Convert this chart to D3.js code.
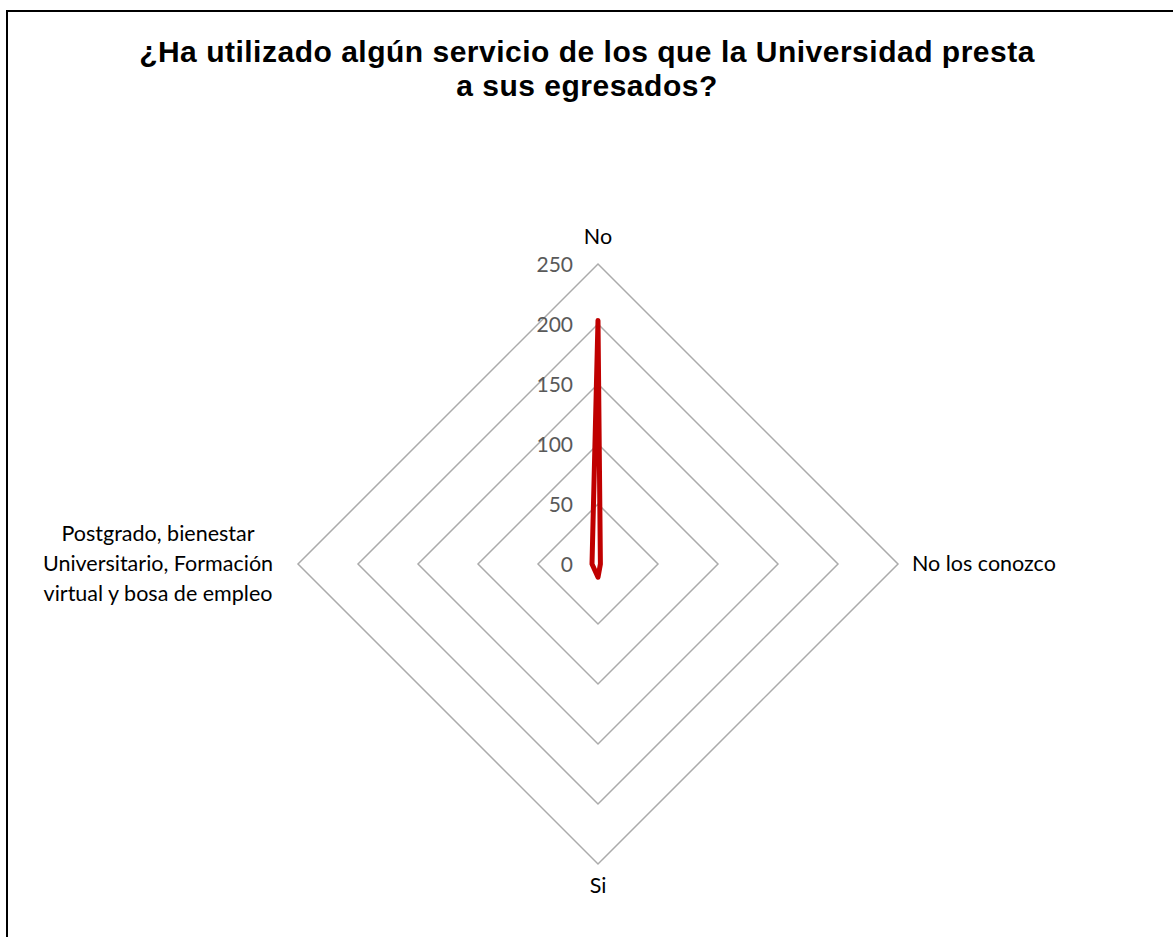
<!DOCTYPE html>
<html>
<head>
<meta charset="utf-8">
<script src="https://cdn.jsdelivr.net/npm/d3@7"></script>
<style>
  html, body { margin: 0; padding: 0; background: #fff; }
  svg { display: block; }
</style>
</head>
<body>
<svg id="chart" width="1173" height="937"></svg>
<script>
// ---- data ----
const titleLines = ["¿Ha utilizado algún servicio de los que la Universidad presta", "a sus egresados?"];
const categories = ["No", "No los conozco", "Si", "Postgrado, bienestar Universitario, Formación virtual y bosa de empleo"];
const categoryLines = [["No"], ["No los conozco"], ["Si"], ["Postgrado, bienestar", "Universitario, Formación", "virtual y bosa de empleo"]];
const values = [203, 2, 11, 5];
const tickValues = [0, 50, 100, 150, 200, 250];

// ---- layout ----
const svg = d3.select("#chart");
const W = 1173, H = 937;
const cx = 598, cy = 564, R = 300;

svg.append("rect").attr("x", 0).attr("y", 0).attr("width", W).attr("height", H).attr("fill", "#fff");
svg.append("rect").attr("x", 7).attr("y", 11).attr("width", W + 20).attr("height", H + 20)
  .attr("fill", "none").attr("stroke", "#000").attr("stroke-width", 2);

const r = d3.scaleLinear().domain([0, 250]).range([0, R]);
const angle = i => (i / categories.length) * 2 * Math.PI; // 0 = up, clockwise
const pt = (i, v) => [cx + r(v) * Math.sin(angle(i)), cy - r(v) * Math.cos(angle(i))];

// title
const title = svg.append("text").attr("text-anchor", "middle")
  .attr("font-family", "Liberation Sans, Arial, sans-serif").attr("font-weight", "bold")
  .attr("font-size", 30).attr("letter-spacing", 0.5).attr("fill", "#000");
titleLines.forEach((t, k) => title.append("tspan").attr("x", 587).attr("y", 62 + k * 34).text(t));

// grid rings
const g = svg.append("g");
tickValues.filter(t => t > 0).forEach(t => {
  const pts = categories.map((c, i) => pt(i, t));
  g.append("path").attr("d", d3.line()(pts) + "Z")
    .attr("fill", "none").attr("stroke", "#ABABAB").attr("stroke-width", 1.5);
});

// tick labels
tickValues.forEach(t => {
  g.append("text").attr("x", cx - 25).attr("y", cy - r(t) + 8)
    .attr("text-anchor", "end").attr("font-family", "Lato, Carlito, Calibri, sans-serif")
    .attr("font-size", 21).attr("fill", "#595959").text(d3.format("d")(t));
});

// series
svg.append("path").datum(values)
  .attr("d", d3.line()(values.map((v, i) => pt(i, v))) + "Z")
  .attr("fill", "none").attr("stroke", "#C00000").attr("stroke-width", 5)
  .attr("stroke-linejoin", "round");

// category labels
const lab = svg.append("g").attr("font-family", "Lato, Carlito, Calibri, sans-serif")
  .attr("font-size", 21.5).attr("fill", "#000");
const lh = 30;
categoryLines.forEach((lines, i) => {
  const [px, py] = pt(i, 250);
  let x, y, anchor;
  if (i === 0) { x = px; y = py - 20; anchor = "middle"; }
  else if (i === 1) { x = px + 14; y = py + 7; anchor = "start"; }
  else if (i === 2) { x = px; y = py + 29; anchor = "middle"; }
  else { x = px - 140; y = py + 7 - lh * (lines.length - 1) / 2; anchor = "middle"; }
  const t = lab.append("text").attr("text-anchor", anchor);
  lines.forEach((l, k) => t.append("tspan").attr("x", x).attr("y", y + k * lh).text(l));
});
</script>
</body>
</html>
